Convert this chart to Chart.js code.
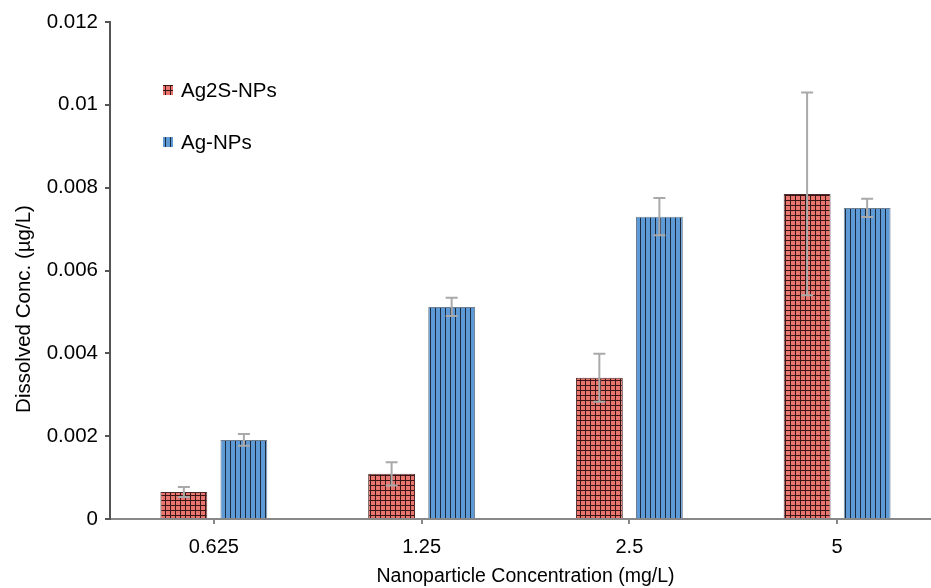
<!DOCTYPE html>
<html>
<head>
<meta charset="utf-8">
<script src="https://cdn.jsdelivr.net/npm/chart.js@4.4.0/dist/chart.umd.min.js"></script>
<style>
  html, body { margin: 0; padding: 0; background: #fff; overflow: hidden; }
  #chart { display: block; }
</style>
</head>
<body>
<canvas id="chart" width="945" height="588"></canvas>
<script>
// values
const categories = ["0.625", "1.25", "2.5", "5"];
const ag2sValues = [0.00065, 0.00109, 0.00341, 0.00785];
const ag2sErrors = [0.00012, 0.00028, 0.00058, 0.00245];
const agValues = [0.00191, 0.00512, 0.0073, 0.00751];
const agErrors = [0.00014, 0.00022, 0.00045, 0.00022];
const seriesNames = ["Ag2S-NPs", "Ag-NPs"];

const FONT = "'Liberation Sans', Arial, sans-serif";

// hatch patterns like the excel fills
function makePattern(bg, line, grid) {
  var c = document.createElement("canvas");
  c.width = 5;
  c.height = 5;
  var g = c.getContext("2d");
  g.fillStyle = bg;
  g.fillRect(0, 0, 5, 5);
  g.fillStyle = line;
  g.fillRect(0, 0, 1, 5);
  if (grid) g.fillRect(0, 0, 5, 1);
  return g.createPattern(c, "repeat");
}

var ctx = document.getElementById("chart").getContext("2d");
var redFill = makePattern("#e8756e", "#3a1616", true);
var blueFill = makePattern("#5e9ad6", "#1c2a3e", false);

// error bars drawn from the y scale
const errorBars = {
  id: "errorBars",
  afterDatasetsDraw(chart) {
    var y = chart.scales.y;
    var g = chart.ctx;
    var errs = [ag2sErrors, agErrors];
    g.save();
    g.strokeStyle = "#a9a9a9";
    g.lineWidth = 2;
    chart.data.datasets.forEach(function (ds, i) {
      chart.getDatasetMeta(i).data.forEach(function (bar, j) {
        var v = ds.data[j];
        var top = y.getPixelForValue(v + errs[i][j]);
        var bot = y.getPixelForValue(v - errs[i][j]);
        g.beginPath();
        g.moveTo(bar.x, top);
        g.lineTo(bar.x, bot);
        g.moveTo(bar.x - 6, top);
        g.lineTo(bar.x + 6, top);
        g.moveTo(bar.x - 6, bot);
        g.lineTo(bar.x + 6, bot);
        g.stroke();
      });
    });
    g.restore();
  },
};

// legend inside the plot + rotated y title
const extras = {
  id: "extras",
  afterDraw(chart) {
    var g = chart.ctx;
    var fills = [redFill, blueFill];
    g.save();
    g.font = "20.5px " + FONT;
    g.textBaseline = "middle";
    g.fillStyle = "#000";
    seriesNames.forEach(function (name, i) {
      var yy = 90 + i * 52;
      g.fillStyle = fills[i];
      g.fillRect(163, yy - 5, 10, 10);
      g.fillStyle = "#000";
      g.fillText(name, 181, yy + 1);
    });
    g.translate(24, 309);
    g.rotate(-Math.PI / 2);
    g.textAlign = "center";
    g.fillText("Dissolved Conc. (\u00b5g/L)", 0, 0);
    g.restore();
  },
};

new Chart(ctx, {
  type: "bar",
  data: {
    labels: categories,
    datasets: [
      {
        label: seriesNames[0],
        data: ag2sValues,
        backgroundColor: redFill,
        borderColor: "#4a2a2a",
        borderWidth: 1,
        barPercentage: 0.78,
        categoryPercentage: 0.578,
      },
      {
        label: seriesNames[1],
        data: agValues,
        backgroundColor: blueFill,
        borderColor: "#6f7f90",
        borderWidth: 1,
        barPercentage: 0.78,
        categoryPercentage: 0.578,
      },
    ],
  },
  options: {
    responsive: false,
    animation: false,
    layout: { padding: { top: 22, right: 4, left: 0, bottom: 0 } },
    plugins: {
      legend: { display: false },
      tooltip: { enabled: false },
    },
    scales: {
      x: {
        afterFit: function (s) { s.height = 69; },
        grid: { drawOnChartArea: false, offset: false, tickLength: 5, color: "#888", lineWidth: 2 },
        border: { color: "#888", width: 2 },
        ticks: { color: "#000", font: { family: FONT, size: 20 }, padding: 11 },
        title: {
          display: true,
          text: "Nanoparticle Concentration (mg/L)",
          color: "#000",
          font: { family: FONT, size: 19.5 },
          padding: { top: 5, bottom: 0 },
        },
      },
      y: {
        min: 0,
        max: 0.012,
        afterFit: function (s) { s.width = 110; },
        grid: { drawOnChartArea: false, tickLength: 5, color: "#555", lineWidth: 2 },
        border: { color: "#555", width: 2 },
        ticks: {
          stepSize: 0.002,
          color: "#000",
          font: { family: FONT, size: 20.5 },
          padding: 7,
          callback: function (v) { return String(Number(v.toFixed(3))); },
        },
      },
    },
  },
  plugins: [errorBars, extras],
});
</script>
</body>
</html>
